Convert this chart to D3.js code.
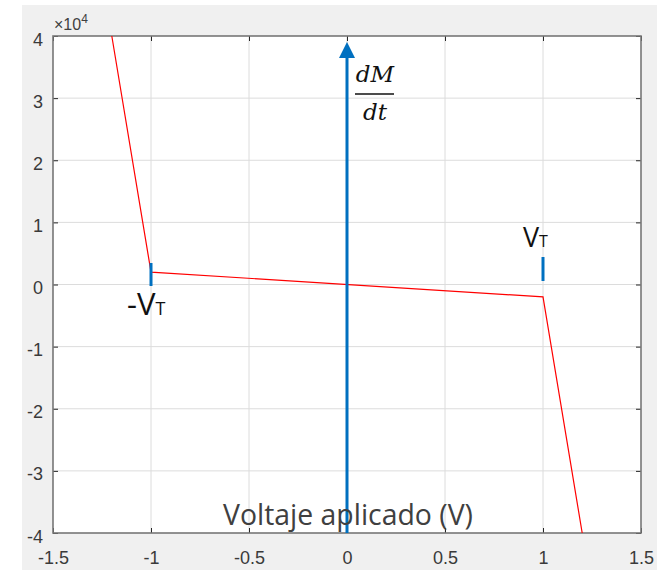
<!DOCTYPE html>
<head>
  <meta charset="UTF-8">
  <script src="https://d3js.org/d3.v7.min.js"></script>
  <style>
    body { margin: 0; background: #fff; }
  </style>
</head>
<body>
  <div id="my_dataviz"></div>
  <script>

    // curve dM/dt vs applied voltage
    var voltage = [-1.2, -1, 1, 1.2];
    var dMdt = [40000, 2000, -2000, -40000];

    // ticks
    var xTicks = [-1.5, -1, -0.5, 0, 0.5, 1, 1.5];
    var yTicks = [-40000, -30000, -20000, -10000, 0, 10000, 20000, 30000, 40000];

    // threshold markers
    var thresholds = [-1, 1];

    var width = 669, height = 570;
    var margin = { top: 36, right: 28, bottom: 37, left: 53 };

    var svg = d3.select("#my_dataviz").append("svg")
      .attr("width", width)
      .attr("height", height);

    // grey figure background
    svg.append("rect")
      .attr("x", 22).attr("y", 5)
      .attr("width", 635).attr("height", 565)
      .attr("fill", "#f0f0f0");

    var x = d3.scaleLinear()
      .domain([-1.5, 1.5])
      .range([margin.left, width - margin.right]);

    var y = d3.scaleLinear()
      .domain([-40000, 40000])
      .range([height - margin.bottom, margin.top]);

    // plot area
    svg.append("rect")
      .attr("x", x(-1.5)).attr("y", y(40000))
      .attr("width", x(1.5) - x(-1.5))
      .attr("height", y(-40000) - y(40000))
      .attr("fill", "#fff");

    // grid
    svg.append("g").selectAll("line")
      .data(xTicks.slice(1, -1))
      .enter().append("line")
      .attr("x1", function (d) { return x(d); })
      .attr("x2", function (d) { return x(d); })
      .attr("y1", y(40000)).attr("y2", y(-40000))
      .attr("stroke", "#dcdcdc").attr("stroke-width", 1);

    svg.append("g").selectAll("line")
      .data(yTicks.slice(1, -1))
      .enter().append("line")
      .attr("y1", function (d) { return y(d); })
      .attr("y2", function (d) { return y(d); })
      .attr("x1", x(-1.5)).attr("x2", x(1.5))
      .attr("stroke", "#dcdcdc").attr("stroke-width", 1);

    var fmtX = function (d) { return String(d); };
    var fmtY = function (d) { return String(d / 10000); };

    // axes with inward ticks
    var xAxis = svg.append("g")
      .attr("transform", "translate(0," + y(-40000) + ")")
      .call(d3.axisBottom(x).tickValues(xTicks).tickSize(-5).tickPadding(18).tickFormat(fmtX));

    var yAxis = svg.append("g")
      .attr("transform", "translate(" + x(-1.5) + ",0)")
      .call(d3.axisLeft(y).tickValues(yTicks).tickSize(-5).tickPadding(10).tickFormat(fmtY));

    svg.append("g")
      .attr("transform", "translate(0," + y(40000) + ")")
      .call(d3.axisTop(x).tickValues(xTicks).tickSize(-5).tickFormat(""));

    svg.append("g")
      .attr("transform", "translate(" + x(1.5) + ",0)")
      .call(d3.axisRight(y).tickValues(yTicks).tickSize(-5).tickFormat(""));

    svg.selectAll(".domain").remove();
    svg.selectAll(".tick line").attr("stroke", "#262626");
    svg.selectAll(".tick text")
      .attr("fill", "#3a3a3a")
      .attr("font-family", "Liberation Sans, Arial, sans-serif")
      .attr("font-size", 18);
    yAxis.selectAll(".tick text").attr("dy", "0.5em");

    // box
    svg.append("rect")
      .attr("x", x(-1.5)).attr("y", y(40000))
      .attr("width", x(1.5) - x(-1.5))
      .attr("height", y(-40000) - y(40000))
      .attr("fill", "none")
      .attr("stroke", "#777")
      .attr("stroke-width", 1.6);

    // exponent label
    var expo = svg.append("text")
      .attr("x", x(-1.5) + 1).attr("y", 30)
      .attr("fill", "#404040")
      .attr("font-family", "Liberation Sans, Arial, sans-serif")
      .attr("font-size", 16)
      .text("\u00d710");
    expo.append("tspan")
      .attr("dy", -7)
      .attr("font-size", 12)
      .text("4");

    // red curve
    var line = d3.line()
      .x(function (d) { return x(d[0]); })
      .y(function (d) { return y(d[1]); });

    svg.append("path")
      .datum(voltage.map(function (v, i) { return [v, dMdt[i]]; }))
      .attr("d", line)
      .attr("fill", "none")
      .attr("stroke", "#ff0000")
      .attr("stroke-width", 1.2);

    // blue vertical arrow at V = 0
    var blue = "#0070c0";
    svg.append("line")
      .attr("x1", x(0)).attr("x2", x(0))
      .attr("y1", y(-40000)).attr("y2", 56)
      .attr("stroke", blue).attr("stroke-width", 3);

    svg.append("path")
      .attr("d", "M" + (x(0) - 8) + ",58 L" + x(0) + ",42 L" + (x(0) + 8) + ",58 Z")
      .attr("fill", blue);

    // threshold tick marks
    svg.append("line")
      .attr("x1", x(thresholds[0])).attr("x2", x(thresholds[0]))
      .attr("y1", 263).attr("y2", 286)
      .attr("stroke", blue).attr("stroke-width", 3);

    svg.append("line")
      .attr("x1", x(thresholds[1])).attr("x2", x(thresholds[1]))
      .attr("y1", 257).attr("y2", 281)
      .attr("stroke", blue).attr("stroke-width", 3);

    // dM/dt fraction label
    var mathFont = "DejaVu Serif, Liberation Serif, serif";
    svg.append("text")
      .attr("x", 375).attr("y", 82)
      .attr("text-anchor", "middle")
      .attr("font-family", mathFont)
      .attr("font-style", "italic")
      .attr("font-size", 23)
      .attr("fill", "#111")
      .text("dM");
    svg.append("line")
      .attr("x1", 355).attr("x2", 394)
      .attr("y1", 94).attr("y2", 94)
      .attr("stroke", "#111").attr("stroke-width", 1.4);
    svg.append("text")
      .attr("x", 375).attr("y", 120)
      .attr("text-anchor", "middle")
      .attr("font-family", mathFont)
      .attr("font-style", "italic")
      .attr("font-size", 23)
      .attr("fill", "#111")
      .text("dt");

    // threshold labels
    var labelFont = "Open Sans, Liberation Sans, sans-serif";
    var vtNeg = svg.append("text")
      .attr("x", 127).attr("y", 315)
      .attr("font-family", labelFont)
      .attr("font-size", 31)
      .attr("fill", "#111")
      .text("-V");
    vtNeg.append("tspan")
      .attr("font-size", 18)
      .text("T");

    var vtPos = svg.append("text")
      .attr("x", 523).attr("y", 247)
      .attr("font-family", labelFont)
      .attr("font-size", 27)
      .attr("fill", "#111")
      .text("V");
    vtPos.append("tspan")
      .attr("font-size", 16)
      .text("T");

    // x axis title (drawn inside the plot)
    svg.append("text")
      .attr("x", 223).attr("y", 525)
      .attr("textLength", 250)
      .attr("lengthAdjust", "spacingAndGlyphs")
      .attr("font-family", labelFont)
      .attr("font-size", 30)
      .attr("fill", "#404040")
      .text("Voltaje aplicado (V)");

  </script>
</body>
